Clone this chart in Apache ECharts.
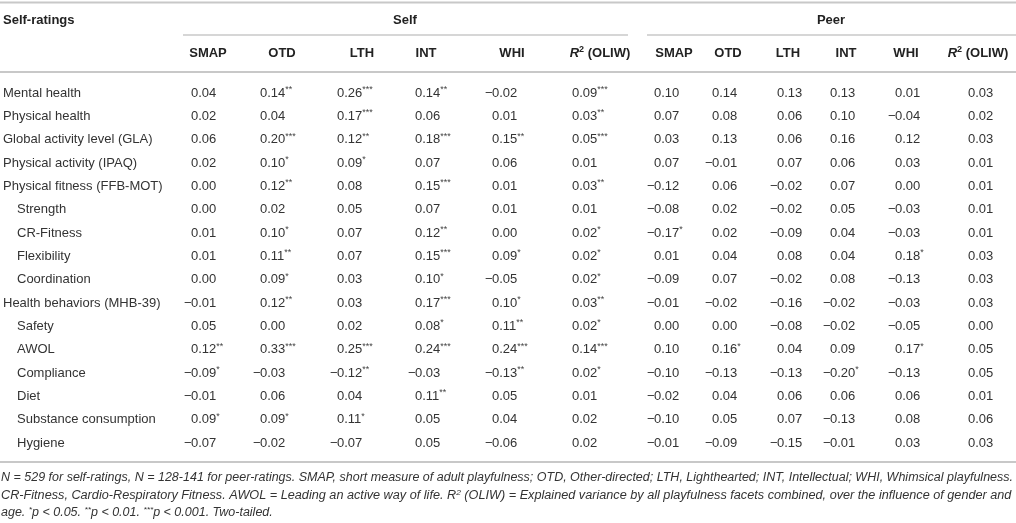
<!DOCTYPE html>
<html>
<head>
<meta charset="utf-8">
<script src="https://cdn.jsdelivr.net/npm/echarts@6/dist/echarts.min.js"></script>
<style>
  html, body { margin: 0; padding: 0; background: #fff; }
  #main { width: 1016px; height: 523px; }
</style>
</head>
<body>
<div id="main"></div>
<script>
// row labels (self-ratings)
var rowLabels = ['Mental health', 'Physical health', 'Global activity level (GLA)', 'Physical activity (IPAQ)',
  'Physical fitness (FFB-MOT)', 'Strength', 'CR-Fitness', 'Flexibility', 'Coordination',
  'Health behaviors (MHB-39)', 'Safety', 'AWOL', 'Compliance', 'Diet', 'Substance consumption', 'Hygiene'];
var colLabels = ['SMAP', 'OTD', 'LTH', 'INT', 'WHI', 'R2'];

// self columns: value + number of stars
var selfSMAP = [0.04, 0.02, 0.06, 0.02, 0.00, 0.00, 0.01, 0.01, 0.00, -0.01, 0.05, 0.12, -0.09, -0.01, 0.09, -0.07];
var selfSMAPSig = [0, 0, 0, 0, 0, 0, 0, 0, 0, 0, 0, 2, 1, 0, 1, 0];
var selfOTD = [0.14, 0.04, 0.20, 0.10, 0.12, 0.02, 0.10, 0.11, 0.09, 0.12, 0.00, 0.33, -0.03, 0.06, 0.09, -0.02];
var selfOTDSig = [2, 0, 3, 1, 2, 0, 1, 2, 1, 2, 0, 3, 0, 0, 1, 0];
var selfLTH = [0.26, 0.17, 0.12, 0.09, 0.08, 0.05, 0.07, 0.07, 0.03, 0.03, 0.02, 0.25, -0.12, 0.04, 0.11, -0.07];
var selfLTHSig = [3, 3, 2, 1, 0, 0, 0, 0, 0, 0, 0, 3, 2, 0, 1, 0];
var selfINT = [0.14, 0.06, 0.18, 0.07, 0.15, 0.07, 0.12, 0.15, 0.10, 0.17, 0.08, 0.24, -0.03, 0.11, 0.05, 0.05];
var selfINTSig = [2, 0, 3, 0, 3, 0, 2, 3, 1, 3, 1, 3, 0, 2, 0, 0];
var selfWHI = [-0.02, 0.01, 0.15, 0.06, 0.01, 0.01, 0.00, 0.09, -0.05, 0.10, 0.11, 0.24, -0.13, 0.05, 0.04, -0.06];
var selfWHISig = [0, 0, 2, 0, 0, 0, 0, 1, 0, 1, 2, 3, 2, 0, 0, 0];
var selfR2 = [0.09, 0.03, 0.05, 0.01, 0.03, 0.01, 0.02, 0.02, 0.02, 0.03, 0.02, 0.14, 0.02, 0.01, 0.02, 0.02];
var selfR2Sig = [3, 2, 3, 0, 2, 0, 1, 1, 1, 2, 1, 3, 1, 0, 0, 0];

// peer columns
var peerSMAP = [0.10, 0.07, 0.03, 0.07, -0.12, -0.08, -0.17, 0.01, -0.09, -0.01, 0.00, 0.10, -0.10, -0.02, -0.10, -0.01];
var peerSMAPSig = [0, 0, 0, 0, 0, 0, 1, 0, 0, 0, 0, 0, 0, 0, 0, 0];
var peerOTD = [0.14, 0.08, 0.13, -0.01, 0.06, 0.02, 0.02, 0.04, 0.07, -0.02, 0.00, 0.16, -0.13, 0.04, 0.05, -0.09];
var peerOTDSig = [0, 0, 0, 0, 0, 0, 0, 0, 0, 0, 0, 1, 0, 0, 0, 0];
var peerLTH = [0.13, 0.06, 0.06, 0.07, -0.02, -0.02, -0.09, 0.08, -0.02, -0.16, -0.08, 0.04, -0.13, 0.06, 0.07, -0.15];
var peerLTHSig = [0, 0, 0, 0, 0, 0, 0, 0, 0, 0, 0, 0, 0, 0, 0, 0];
var peerINT = [0.13, 0.10, 0.16, 0.06, 0.07, 0.05, 0.04, 0.04, 0.08, -0.02, -0.02, 0.09, -0.20, 0.06, -0.13, -0.01];
var peerINTSig = [0, 0, 0, 0, 0, 0, 0, 0, 0, 0, 0, 0, 1, 0, 0, 0];
var peerWHI = [0.01, -0.04, 0.12, 0.03, 0.00, -0.03, -0.03, 0.18, -0.13, -0.03, -0.05, 0.17, -0.13, 0.06, 0.08, 0.03];
var peerWHISig = [0, 0, 0, 0, 0, 0, 0, 1, 0, 0, 0, 1, 0, 0, 0, 0];
var peerR2 = [0.03, 0.02, 0.03, 0.01, 0.01, 0.01, 0.01, 0.03, 0.03, 0.03, 0.00, 0.05, 0.05, 0.01, 0.06, 0.03];
var peerR2Sig = [0, 0, 0, 0, 0, 0, 0, 0, 0, 0, 0, 0, 0, 0, 0, 0];

// layout (not data): where each column's numbers start, and header centres
var FONT = '"Liberation Sans", Arial, Helvetica, sans-serif';
var indented = [0, 0, 0, 0, 0, 1, 1, 1, 1, 0, 1, 1, 1, 1, 1, 1];
var selfAnchor = [191, 260, 337, 415, 492, 572];
var peerAnchor = [654, 712, 777, 830, 895, 968];
var selfHead = [208, 282, 362, 426, 512, 600];
var peerHead = [674, 728, 788, 846, 906, 978];

var selfCols = [[selfSMAP, selfSMAPSig], [selfOTD, selfOTDSig], [selfLTH, selfLTHSig],
  [selfINT, selfINTSig], [selfWHI, selfWHISig], [selfR2, selfR2Sig]];
var peerCols = [[peerSMAP, peerSMAPSig], [peerOTD, peerOTDSig], [peerLTH, peerLTHSig],
  [peerINT, peerINTSig], [peerWHI, peerWHISig], [peerR2, peerR2Sig]];

var cells = [];
function addCols(cols, anchors) {
  cols.forEach(function (c, j) {
    c[0].forEach(function (v, i) {
      cells.push([anchors[j], i, v, c[1][i]]);
    });
  });
}
addCols(selfCols, selfAnchor);
addCols(peerCols, peerAnchor);

function stars(n) {
  return n > 0 ? new Array(n + 1).join('*') : '';
}

function renderCell(params, api) {
  var p = api.coord([api.value(0), api.value(1)]);
  var v = api.value(2);
  var sig = api.value(3);
  var txt = '{n|' + Math.abs(v).toFixed(2) + '}' + (sig > 0 ? '{s|' + stars(sig) + '}' : '');
  var children = [{
    type: 'text',
    x: p[0], y: p[1],
    style: {
      text: txt, align: 'left', verticalAlign: 'middle', fill: '#333',
      rich: {
        n: { fontSize: 13, fontFamily: FONT, lineHeight: 16, fill: '#333' },
        s: { fontSize: 9, fontFamily: FONT, lineHeight: 10, verticalAlign: 'top', fill: '#444' }
      }
    }
  }];
  if (v < 0) {
    children.push({
      type: 'text',
      x: p[0] + 0.5, y: p[1],
      style: { text: '\u2212', align: 'right', verticalAlign: 'middle', fill: '#333', fontSize: 13, fontFamily: FONT }
    });
  }
  return { type: 'group', children: children };
}

var chart = echarts.init(document.getElementById('main'));

var graphics = [];
function hline(x1, x2, y, w) {
  graphics.push({ type: 'line', silent: true, shape: { x1: x1, y1: y, x2: x2, y2: y },
    style: { stroke: '#c8c8c8', lineWidth: w } });
}
hline(0, 1016, 2.5, 2);
hline(183, 628, 35, 1.5);
hline(647, 1016, 35, 1.5);
hline(0, 1016, 72, 2);
hline(0, 1016, 462, 2);

function headText(x, y, t, align) {
  graphics.push({ type: 'text', silent: true, x: x, y: y,
    style: { text: t, align: align || 'center', verticalAlign: 'middle', fill: '#222',
      fontSize: 13, fontWeight: 'bold', fontFamily: FONT,
      rich: {
        b: { fontSize: 13, fontWeight: 'bold', fontFamily: FONT, fill: '#222', lineHeight: 16 },
        i: { fontSize: 13, fontWeight: 'bold', fontStyle: 'italic', fontFamily: FONT, fill: '#222', lineHeight: 16 },
        sup: { fontSize: 9, fontWeight: 'bold', fontFamily: FONT, fill: '#222', lineHeight: 10, verticalAlign: 'top' }
      } } });
}
headText(3, 20, 'Self-ratings', 'left');
headText(405, 20, 'Self');
headText(831, 20, 'Peer');
function colHeaders(centres) {
  colLabels.forEach(function (c, j) {
    var t = c === 'R2' ? '{i|R}{sup|2}{b| (OLIW)}' : '{b|' + c + '}';
    headText(centres[j], 53, t);
  });
}
colHeaders(selfHead);
colHeaders(peerHead);

// footnote, squeezed to the table width like the condensed original
var note1 = 'N = 529 for self-ratings, N = 128-141 for peer-ratings. SMAP, short measure of adult playfulness; OTD, Other-directed; LTH, Lighthearted; INT, Intellectual; WHI, Whimsical playfulness.';
var note2a = 'CR-Fitness, Cardio-Respiratory Fitness. AWOL = Leading an active way of life. R';
var note2b = ' (OLIW) = Explained variance by all playfulness facets combined, over the influence of gender and';
var noteLines = [
  '{t|' + note1 + '}',
  '{t|' + note2a + '}{s|2}{t|' + note2b + '}',
  '{t|age. }{s|*}{t|p < 0.05. }{s|**}{t|p < 0.01. }{s|***}{t|p < 0.001. Two-tailed.}'
];
var ctx = document.createElement('canvas').getContext('2d');
ctx.font = 'italic 12px ' + FONT;
var squeeze1 = 1012 / ctx.measureText(note1).width;
var squeeze2 = 1011 / (ctx.measureText(note2a + note2b).width + 5);
var noteScale = [squeeze1, squeeze2, squeeze1];
var noteY = [478, 496, 513];
noteLines.forEach(function (t, k) {
  graphics.push({ type: 'text', silent: true, x: 1, y: noteY[k], scaleX: noteScale[k],
    style: { text: t, align: 'left', verticalAlign: 'middle', fill: '#333',
      rich: {
        t: { fontSize: 12, fontStyle: 'italic', fontFamily: FONT, fill: '#333', lineHeight: 15 },
        s: { fontSize: 8, fontStyle: 'italic', fontFamily: FONT, fill: '#333', lineHeight: 9, verticalAlign: 'top' }
      } } });
});

var option = {
  animation: false,
  grid: { left: 0, right: 0, top: 81.33, height: 373.33, containLabel: false },
  xAxis: { type: 'value', min: 0, max: 1016, show: false },
  yAxis: {
    type: 'category', inverse: true, data: rowLabels,
    axisLine: { show: false }, axisTick: { show: false }, splitLine: { show: false },
    axisLabel: {
      inside: true, margin: 3, color: '#333', fontSize: 13, fontFamily: FONT,
      formatter: function (val, idx) {
        return indented[idx] ? '{ind|' + val + '}' : '{m|' + val + '}';
      },
      rich: {
        m: { fontSize: 13, fontFamily: FONT, color: '#333' },
        ind: { fontSize: 13, fontFamily: FONT, color: '#333', padding: [0, 0, 0, 14] }
      }
    }
  },
  series: [{
    type: 'custom',
    coordinateSystem: 'cartesian2d',
    encode: { x: 0, y: 1 },
    renderItem: renderCell,
    data: cells,
    silent: true
  }],
  graphic: graphics
};
chart.setOption(option);
</script>
</body>
</html>
